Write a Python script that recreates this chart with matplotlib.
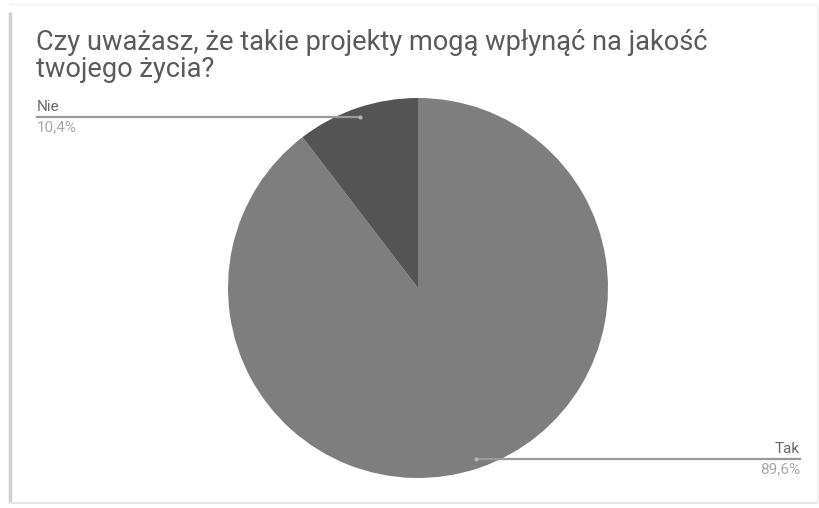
import matplotlib.pyplot as plt
import numpy as np

plt.rcParams['font.family'] = ['Roboto', 'DejaVu Sans']

title = "Czy uważasz, że takie projekty mogą wpłynąć na jakość\ntwojego życia?"
labels = ["Tak", "Nie"]
values = [89.6, 10.4]
pct_labels = ["89,6%", "10,4%"]
colors = ["#7e7e7e", "#545454"]

W, H = 820, 508
cx, cy, R = 418, H - 288, 190

fig = plt.figure(figsize=(W / 100, H / 100), dpi=100)
ax = fig.add_axes([0, 0, 1, 1])

wedges, _ = ax.pie(values, colors=colors, startangle=90, counterclock=False,
                   center=(cx, cy), radius=R, frame=True,
                   wedgeprops=dict(linewidth=0))
ax.set_xlim(0, W)
ax.set_ylim(0, H)
ax.set_aspect('equal')
ax.axis('off')

# card outline
ax.plot([10, 10], [H - 12, H - 503], color="#d0d0d0", lw=2.5, solid_capstyle='butt')
ax.plot([10, 817], [H - 503, H - 503], color="#e6e6e6", lw=1.5)
ax.plot([10, 817], [H - 4, H - 4], color="#f2f2f2", lw=1)
ax.plot([817, 817], [H - 4, H - 503], color="#f0f0f0", lw=1)

ax.text(36, H - 29, title, fontsize=19.6, color="#5a5a5a", va='top', ha='left',
        linespacing=1.0)

# leader lines from inside each wedge out to the side labels
text_x = {"Tak": 800, "Nie": 37}
for w, lab, pct in zip(wedges, labels, pct_labels):
    mid = np.deg2rad((w.theta1 + w.theta2) / 2)
    px = cx + 0.95 * R * np.cos(mid)
    py = cy + 0.95 * R * np.sin(mid)
    tx = text_x[lab]
    ax.plot([px, tx], [py, py], color="#9a9a9a", lw=1.6)
    ax.plot(px, py, 'o', color="#b5b5b5", ms=3, mec='none')
    ha = 'left' if tx < px else 'right'
    ax.text(tx, py + 3, lab, fontsize=11, color="#6a6a6a", ha=ha, va='bottom')
    ax.text(tx, py - 3, pct, fontsize=11, color="#a8a8a8", ha=ha, va='top')

fig.savefig("out.png", dpi=100, facecolor="white")
